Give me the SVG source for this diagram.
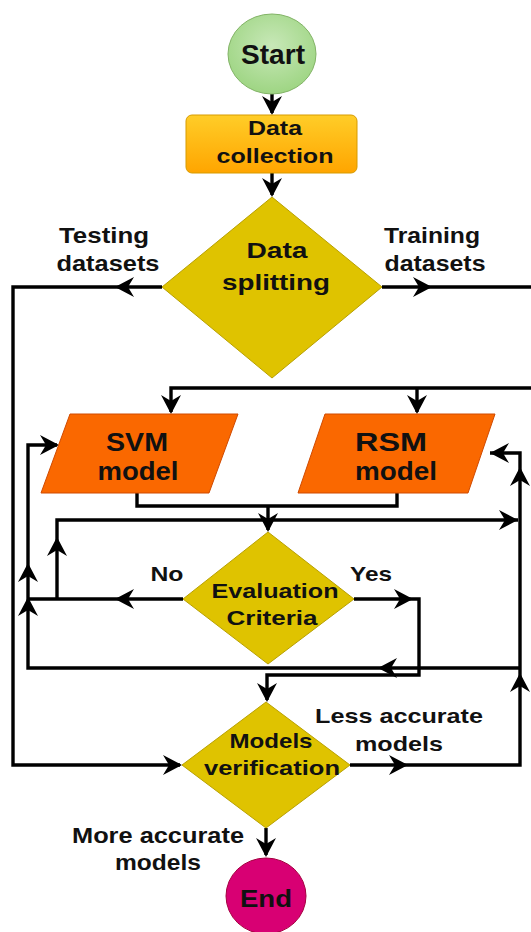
<svg xmlns="http://www.w3.org/2000/svg" xmlns:xlink="http://www.w3.org/1999/xlink" width="531" height="932" viewBox="0 0 531 932">
  <style>
    .lbl { font-family: "Liberation Sans", Arial, sans-serif; font-weight: bold; fill: #111; text-anchor: middle; }
    .wire { fill: none; stroke: #000; stroke-width: 3.4; stroke-linejoin: miter; }
    .dia { fill: #DFC300; stroke: #B8A000; stroke-width: 1; }
    .para { fill: #FA6800; stroke: #D04A00; stroke-width: 1; }
  </style>
  <defs>
    <radialGradient id="gGreen" cx="0.5" cy="0.4" r="0.6">
      <stop offset="0" stop-color="#C8E8B8"/>
      <stop offset="1" stop-color="#9ED583"/>
    </radialGradient>
    <linearGradient id="gOrange" x1="0" y1="0" x2="0" y2="1">
      <stop offset="0" stop-color="#FFCD28"/>
      <stop offset="1" stop-color="#FFA500"/>
    </linearGradient>
    <!-- classic arrowhead, tip at origin, pointing along +x -->
    <path id="ah" d="M0,0 L-19,-10 L-13,0 L-19,10 Z" fill="#000"/>
  </defs>

  <!-- connectors -->
  <g id="connectors">
    <path class="wire" d="M272,94 V113"/>
    <path class="wire" d="M272,173 V195"/>
    <!-- testing datasets branch -->
    <path class="wire" d="M162,287 H13 V765 H180"/>
    <!-- training datasets branch -->
    <path class="wire" d="M382,287 H533 V388 H171 V412"/>
    <path class="wire" d="M417,388 V412"/>
    <!-- models to evaluation -->
    <path class="wire" d="M137,493 V506 H397 V493"/>
    <path class="wire" d="M268,506 V530"/>
    <!-- No branch -->
    <path class="wire" d="M183,599 H28"/>
    <path class="wire" d="M57,599 V520 H518"/>
    <!-- feedback loop to SVM -->
    <path class="wire" d="M520,668 H28 V445 H57"/>
    <!-- Yes branch -->
    <path class="wire" d="M354,599 H419 V675 H267 V700"/>
    <!-- less accurate models loop -->
    <path class="wire" d="M350,765 H520 V453 H490" stroke-width="4"/>
    <!-- to end -->
    <path class="wire" d="M266,828 V855"/>

    <use xlink:href="#ah" transform="translate(272 115) rotate(90)"/>
    <use xlink:href="#ah" transform="translate(272 197) rotate(90)"/>
    <use xlink:href="#ah" transform="translate(115 287) rotate(180)"/>
    <use xlink:href="#ah" transform="translate(182 765)"/>
    <use xlink:href="#ah" transform="translate(432 287)"/>
    <use xlink:href="#ah" transform="translate(171 414) rotate(90)"/>
    <use xlink:href="#ah" transform="translate(417 414) rotate(90)"/>
    <use xlink:href="#ah" transform="translate(268 532) rotate(90)"/>
    <use xlink:href="#ah" transform="translate(115 599) rotate(180)"/>
    <use xlink:href="#ah" transform="translate(57 537) rotate(-90)"/>
    <use xlink:href="#ah" transform="translate(518 520)"/>
    <use xlink:href="#ah" transform="translate(378 668) rotate(180)"/>
    <use xlink:href="#ah" transform="translate(28 563) rotate(-90)"/>
    <use xlink:href="#ah" transform="translate(28 597) rotate(-90)"/>
    <use xlink:href="#ah" transform="translate(59 445)"/>
    <use xlink:href="#ah" transform="translate(413 599)"/>
    <use xlink:href="#ah" transform="translate(267 702) rotate(90)"/>
    <use xlink:href="#ah" transform="translate(408 765)"/>
    <use xlink:href="#ah" transform="translate(520 467) rotate(-90)"/>
    <use xlink:href="#ah" transform="translate(520 673) rotate(-90)"/>
    <use xlink:href="#ah" transform="translate(490 453) rotate(180)"/>
    <use xlink:href="#ah" transform="translate(266 857) rotate(90)"/>

    <!-- edge labels -->
    <text class="lbl" font-size="22" x="104" y="243" textLength="90" lengthAdjust="spacingAndGlyphs">Testing</text>
    <text class="lbl" font-size="22" x="108" y="271" textLength="103" lengthAdjust="spacingAndGlyphs">datasets</text>
    <text class="lbl" font-size="22" x="432" y="243" textLength="96" lengthAdjust="spacingAndGlyphs">Training</text>
    <text class="lbl" font-size="22" x="435" y="271" textLength="101" lengthAdjust="spacingAndGlyphs">datasets</text>
    <text class="lbl" font-size="21" x="167" y="581" textLength="33" lengthAdjust="spacingAndGlyphs">No</text>
    <text class="lbl" font-size="21" x="371" y="581" textLength="42" lengthAdjust="spacingAndGlyphs">Yes</text>
    <text class="lbl" font-size="21" x="399" y="723" textLength="168" lengthAdjust="spacingAndGlyphs">Less accurate</text>
    <text class="lbl" font-size="21" x="399" y="751" textLength="88" lengthAdjust="spacingAndGlyphs">models</text>
    <text class="lbl" font-size="22" x="158" y="843" textLength="172" lengthAdjust="spacingAndGlyphs">More accurate</text>
    <text class="lbl" font-size="22" x="158" y="870" textLength="86" lengthAdjust="spacingAndGlyphs">models</text>
  </g>

  <g id="start">
    <ellipse cx="272" cy="54" rx="44" ry="40" fill="url(#gGreen)" stroke="#82B366" stroke-width="1"/>
    <text class="lbl" font-size="27" x="273" y="64" textLength="64" lengthAdjust="spacingAndGlyphs">Start</text>
  </g>

  <g id="data-collection">
    <rect x="186" y="115" width="171" height="58" rx="6" fill="url(#gOrange)" stroke="#D79B00" stroke-width="1"/>
    <text class="lbl" font-size="20" x="275" y="135" textLength="54" lengthAdjust="spacingAndGlyphs">Data</text>
    <text class="lbl" font-size="20" x="275" y="163" textLength="117" lengthAdjust="spacingAndGlyphs">collection</text>
  </g>

  <g id="data-splitting">
    <polygon class="dia" points="272,197 382,287 272,378 162,287"/>
    <text class="lbl" font-size="22" x="277" y="258" textLength="61" lengthAdjust="spacingAndGlyphs">Data</text>
    <text class="lbl" font-size="22" x="276" y="290" textLength="108" lengthAdjust="spacingAndGlyphs">splitting</text>
  </g>

  <g id="svm-model">
    <polygon class="para" points="70,414 238,414 209,493 41,493"/>
    <text class="lbl" font-size="26" x="137" y="451" textLength="62" lengthAdjust="spacingAndGlyphs">SVM</text>
    <text class="lbl" font-size="26" x="138" y="480" textLength="81" lengthAdjust="spacingAndGlyphs">model</text>
  </g>

  <g id="rsm-model">
    <polygon class="para" points="325,414 495,414 468,493 298,493"/>
    <text class="lbl" font-size="26" x="391" y="451" textLength="72" lengthAdjust="spacingAndGlyphs">RSM</text>
    <text class="lbl" font-size="26" x="396" y="480" textLength="82" lengthAdjust="spacingAndGlyphs">model</text>
  </g>

  <g id="evaluation-criteria">
    <polygon class="dia" points="268,532 354,599 268,664 183,599"/>
    <text class="lbl" font-size="21" x="275" y="598" textLength="127" lengthAdjust="spacingAndGlyphs">Evaluation</text>
    <text class="lbl" font-size="21" x="272" y="625" textLength="91" lengthAdjust="spacingAndGlyphs">Criteria</text>
  </g>

  <g id="models-verification">
    <polygon class="dia" points="266,702 350,765 266,828 182,765"/>
    <text class="lbl" font-size="21" x="271" y="748" textLength="83" lengthAdjust="spacingAndGlyphs">Models</text>
    <text class="lbl" font-size="21" x="272" y="775" textLength="136" lengthAdjust="spacingAndGlyphs">verification</text>
  </g>

  <g id="end">
    <ellipse cx="266" cy="896" rx="40" ry="38" fill="#D80073" stroke="#A50040" stroke-width="1"/>
    <text class="lbl" font-size="24" x="266" y="907" textLength="52" lengthAdjust="spacingAndGlyphs">End</text>
  </g>
</svg>
